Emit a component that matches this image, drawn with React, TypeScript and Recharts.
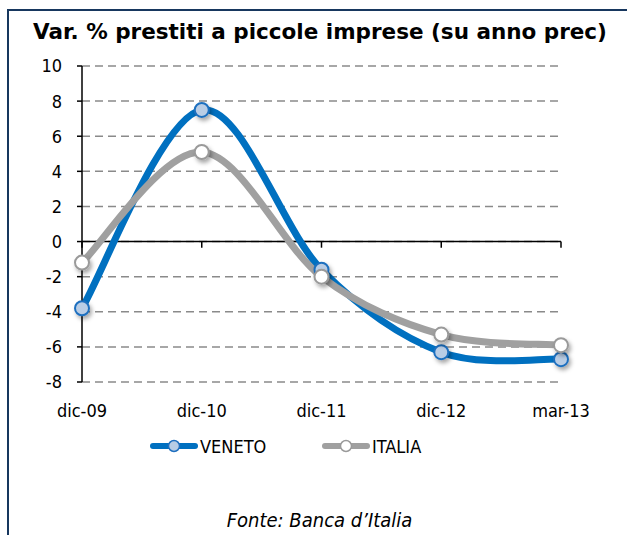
import React from "react"
import {
  CartesianGrid,
  Line,
  LineChart,
  ReferenceLine,
  XAxis,
  YAxis,
} from "recharts"

const categories = ["dic-09", "dic-10", "dic-11", "dic-12", "mar-13"]
const veneto = [-3.8, 7.5, -1.6, -6.3, -6.7]
const italia = [-1.2, 5.1, -2.0, -5.3, -5.9]
const yTicks = [-8, -6, -4, -2, 0, 2, 4, 6, 8, 10]

const data = categories.map((name, i) => ({ name, VENETO: veneto[i], ITALIA: italia[i] }))

const series = [
  { key: "VENETO", color: "#0070c0", dotFill: "#b9cde5", dotStroke: "#1f6fbf" },
  { key: "ITALIA", color: "#a0a0a0", dotFill: "#ffffff", dotStroke: "#9a9a9a" },
]

const font = "'DejaVu Sans', Verdana, sans-serif"
const condFont = "'DejaVu Sans Condensed', 'DejaVu Sans', sans-serif"

// excel-like smoothing (catmull-rom through the points)
function smoothCurve(context: any) {
  let pts: number[][] = []
  return {
    areaStart() {},
    areaEnd() {},
    lineStart() {
      pts = []
    },
    lineEnd() {
      if (!pts.length) return
      context.moveTo(pts[0][0], pts[0][1])
      for (let i = 0; i < pts.length - 1; i++) {
        const p0 = pts[i - 1] || pts[i]
        const p1 = pts[i]
        const p2 = pts[i + 1]
        const p3 = pts[i + 2] || p2
        context.bezierCurveTo(
          p1[0] + (p2[0] - p0[0]) / 6,
          p1[1] + (p2[1] - p0[1]) / 6,
          p2[0] - (p3[0] - p1[0]) / 6,
          p2[1] - (p3[1] - p1[1]) / 6,
          p2[0],
          p2[1]
        )
      }
    },
    point(x: number, y: number) {
      pts.push([+x, +y])
    },
  }
}

const tickStyle = { fill: "#000", fontSize: 18, fontFamily: condFont, fontStretch: "condensed" }

function LegendItem({ left, s }: { left: number; s: (typeof series)[number] }) {
  return (
    <div style={{ position: "absolute", left, top: 436, display: "flex", alignItems: "center", height: 20 }}>
      <svg width={50} height={20}>
        <line x1={4} y1={10} x2={46} y2={10} stroke={s.color} strokeWidth={6} strokeLinecap="round" />
        <circle cx={25} cy={10} r={5.5} fill={s.dotFill} stroke={s.dotStroke} strokeWidth={1.5} />
      </svg>
      <span style={{ fontFamily: condFont, fontStretch: "condensed", fontSize: 18, marginLeft: 1, color: "#000" }}>
        {s.key}
      </span>
    </div>
  )
}

export default function App() {
  return (
    <div style={{ position: "absolute", left: 0, top: 0, width: 627, height: 535, background: "#fff", overflow: "hidden" }}>
      <style>{`body{margin:0}`}</style>
      <div
        style={{
          position: "absolute",
          left: 7,
          top: 9,
          width: 640,
          height: 560,
          borderLeft: "2px solid #17375e",
          borderTop: "2px solid #17375e",
        }}
      />
      <div
        style={{
          position: "absolute",
          left: 33,
          top: 19,
          fontFamily: font,
          fontWeight: "bold",
          fontSize: 21.5,
          lineHeight: "25px",
          whiteSpace: "nowrap",
          color: "#000",
        }}
      >
        Var. % prestiti a piccole imprese (su anno prec)
      </div>
      <div style={{ position: "absolute", left: 0, top: 0 }}>
        <LineChart width={627} height={535} data={data} margin={{ top: 66, right: 66, bottom: 123, left: 0 }}>
          <defs>
            <filter id="dotShadow" x="-60%" y="-60%" width="220%" height="220%">
              <feDropShadow dx="2" dy="3" stdDeviation="2" floodColor="#000" floodOpacity="0.35" />
            </filter>
          </defs>
          <CartesianGrid vertical={false} stroke="#8a8a8a" strokeDasharray="8 5" strokeWidth={1.5} />
          <XAxis
            dataKey="name"
            height={30}
            axisLine={false}
            tickLine={false}
            tickMargin={16}
            tick={tickStyle}
            interval={0}
          />
          <YAxis
            width={82}
            domain={[-8, 10]}
            ticks={yTicks}
            interval={0}
            axisLine={{ stroke: "#000", strokeWidth: 1.5 }}
            tickLine={{ stroke: "#000", strokeWidth: 1.5 }}
            tickSize={5}
            tickMargin={15}
            tick={tickStyle}
          />
          <ReferenceLine y={0} stroke="#000" strokeWidth={1.5} />
          {categories.map((c) => (
            <ReferenceLine
              key={c}
              segment={[
                { x: c, y: 0 },
                { x: c, y: -0.35 },
              ]}
              stroke="#000"
              strokeWidth={1.5}
            />
          ))}
          {series.map((s) => (
            <Line
              key={s.key}
              dataKey={s.key}
              type={smoothCurve as any}
              stroke={s.color}
              strokeWidth={7}
              strokeLinecap="round"
              dot={{ r: 7, fill: s.dotFill, stroke: s.dotStroke, strokeWidth: 2, filter: "url(#dotShadow)" }}
              activeDot={false}
              isAnimationActive={false}
            />
          ))}
        </LineChart>
      </div>
      <LegendItem left={149} s={series[0]} />
      <LegendItem left={321} s={series[1]} />
      <div
        style={{
          position: "absolute",
          left: 6,
          top: 508,
          width: 627,
          textAlign: "center",
          fontFamily: condFont,
          fontStretch: "condensed",
          fontStyle: "italic",
          fontSize: 20,
          lineHeight: "24px",
          color: "#000",
        }}
      >
        Fonte: Banca d’Italia
      </div>
    </div>
  )
}
